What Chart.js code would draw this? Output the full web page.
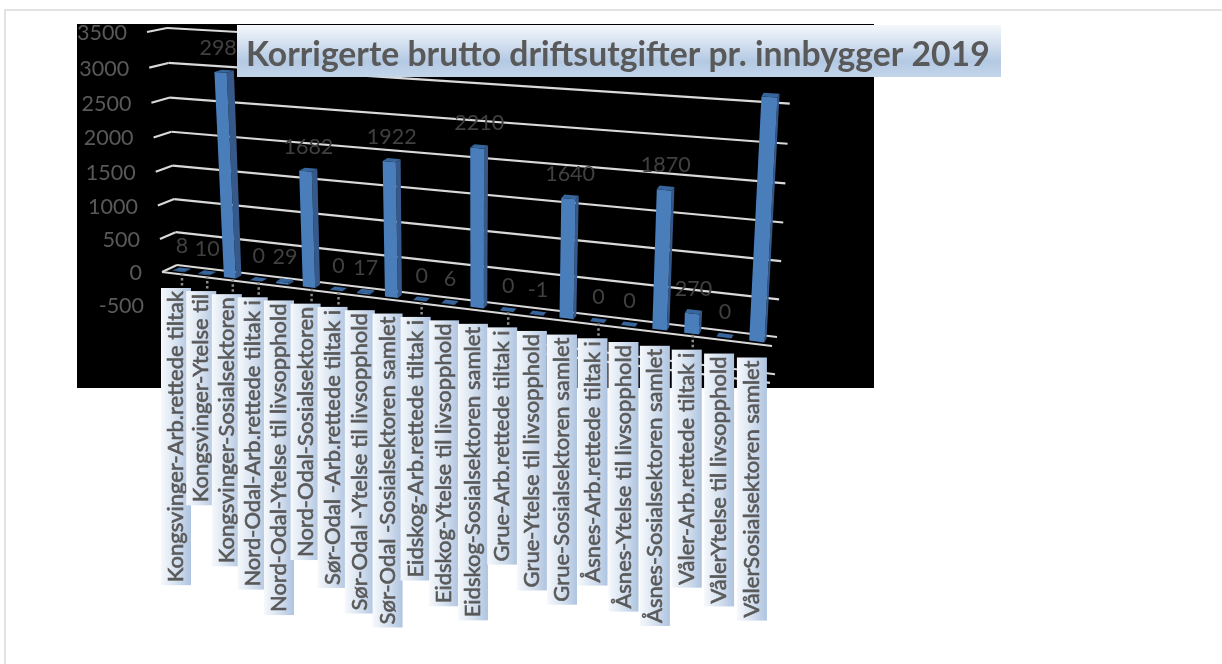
<!DOCTYPE html>
<html>
<head>
<meta charset="utf-8">
<title>Korrigerte brutto driftsutgifter</title>
<script src="https://cdn.jsdelivr.net/npm/chart.js@4"></script>
<style>
  html, body { margin: 0; padding: 0; background: #fff; }
  canvas { display: block; }
</style>
</head>
<body>
<canvas id="chart" width="1222" height="664"></canvas>
<script>
const chartTitle = "Korrigerte brutto driftsutgifter pr. innbygger 2019";
const categories = [
  "Kongsvinger-Arb.rettede tiltak", "Kongsvinger-Ytelse til", "Kongsvinger-Sosialsektoren",
  "Nord-Odal-Arb.rettede tiltak i", "Nord-Odal-Ytelse til livsopphold", "Nord-Odal-Sosialsektoren",
  "Sør-Odal -Arb.rettede tiltak i", "Sør-Odal -Ytelse til livsopphold", "Sør-Odal -Sosialsektoren samlet",
  "Eidskog-Arb.rettede tiltak i", "Eidskog-Ytelse til livsopphold", "Eidskog-Sosialsektoren samlet",
  "Grue-Arb.rettede tiltak i", "Grue-Ytelse til livsopphold", "Grue-Sosialsektoren samlet",
  "Åsnes-Arb.rettede tiltak i", "Åsnes-Ytelse til livsopphold", "Åsnes-Sosialsektoren samlet",
  "Våler-Arb.rettede tiltak i", "VålerYtelse til livsopphold", "VålerSosialsektoren samlet",
];
const values = [8, 10, 2980, 0, 29, 1682, 0, 17, 1922, 0, 6, 2210, 0, -1, 1640, 0, 0, 1870, 270, 0, 3150];
const yTicks = [-500, 0, 500, 1000, 1500, 2000, 2500, 3000, 3500];
// categories that keep a dotted leader down to the label
const leaderCats = [0, 1, 2, 3, 5, 6, 9, 12, 15, 18];
// the last data label sits out of sight in the original
const unlabelled = [20];

const FONT = "Lato, sans-serif";
const TEXT_GRAY = "#595959";
const DARK_TEXT = "#404040";
const GRID = "#d9d9d9";

// Perspective frame: corners of the back wall and of the front edge of the
// floor, for the value range 0..3500
const BACK = { tl: [167, 28], tr: [792, 63], br: [777, 337], bl: [177, 265] };
const FRONT = { tl: [147, 32], tr: [787, 72], br: [772, 346], bl: [162, 272] };
const BAR_BACK_Z = 0.3;
const BAR_FRONT_Z = 0.72;

// unit square -> quad
function quadMap(q) {
  const [x0, y0] = q.tl, [x1, y1] = q.tr, [x2, y2] = q.br, [x3, y3] = q.bl;
  const dx1 = x1 - x2, dx2 = x3 - x2, sx = x0 - x1 + x2 - x3;
  const dy1 = y1 - y2, dy2 = y3 - y2, sy = y0 - y1 + y2 - y3;
  const det = dx1 * dy2 - dx2 * dy1;
  const g = (sx * dy2 - dx2 * sy) / det;
  const h = (dx1 * sy - sx * dy1) / det;
  const a = x1 - x0 + g * x1, b = x3 - x0 + h * x3;
  const d = y1 - y0 + g * y1, e = y3 - y0 + h * y3;
  return (u, v) => {
    const w = g * u + h * v + 1;
    return [(a * u + b * v + x0) / w, (d * u + e * v + y0) / w];
  };
}
const backMap = quadMap(BACK);
const frontMap = quadMap(FRONT);

// flat chart pixel -> projected pixel, z 0 = back wall, z 1 = front edge
function project(chart, px, py, z) {
  const area = chart.chartArea, yScale = chart.scales.y;
  const u = (px - area.left) / (area.right - area.left);
  const top = yScale.getPixelForValue(3500), zero = yScale.getPixelForValue(0);
  const v = (py - top) / (zero - top);
  const b = backMap(u, v), f = frontMap(u, v);
  return [b[0] + (f[0] - b[0]) * z, b[1] + (f[1] - b[1]) * z];
}

function poly(ctx, pts, fill) {
  ctx.beginPath();
  pts.forEach((p, i) => (i ? ctx.lineTo(p[0], p[1]) : ctx.moveTo(p[0], p[1])));
  ctx.closePath();
  ctx.fillStyle = fill;
  ctx.fill();
}

function line(ctx, a, b) {
  ctx.beginPath();
  ctx.moveTo(a[0], a[1]);
  ctx.lineTo(b[0], b[1]);
  ctx.stroke();
}

const perspectivePlugin = {
  id: "perspective",
  beforeDraw(chart) {
    const ctx = chart.ctx;
    ctx.save();
    ctx.fillStyle = "#fff";
    ctx.fillRect(0, 0, 1222, 664);
    ctx.fillStyle = "#e3e3e3";
    ctx.fillRect(4, 9, 1218, 2);
    ctx.fillRect(4, 9, 2, 655);
    ctx.fillStyle = "#000";
    ctx.fillRect(77, 24, 797, 364);
    ctx.restore();
  },
  beforeDatasetsDraw(chart) {
    const ctx = chart.ctx, area = chart.chartArea, yScale = chart.scales.y;
    ctx.save();
    ctx.strokeStyle = GRID;
    ctx.lineWidth = 2.2;
    yTicks.forEach((t) => {
      const py = yScale.getPixelForValue(t);
      const frontLeft = project(chart, area.left, py, 1);
      const backLeft = project(chart, area.left, py, 0);
      const backRight = project(chart, area.right, py, 0);
      line(ctx, frontLeft, backLeft);
      line(ctx, backLeft, backRight);
      if (t <= 0) line(ctx, frontLeft, project(chart, area.right, py, 1));
    });
    ctx.restore();
  },
  beforeDatasetDraw() {
    return false; // the bars are drawn projected below
  },
  afterDatasetsDraw(chart) {
    const ctx = chart.ctx;
    const bars = chart.getDatasetMeta(0).data;
    ctx.save();
    bars.forEach((bar) => {
      const l = bar.x - bar.width / 2, r = bar.x + bar.width / 2;
      const P = (x, y, z) => project(chart, x, y, z);
      const zb = BAR_BACK_Z, zf = BAR_FRONT_Z;
      poly(ctx, [P(r, bar.y, zf), P(r, bar.y, zb), P(r, bar.base, zb), P(r, bar.base, zf)], "#36598a");
      poly(ctx, [P(l, bar.base, zf), P(r, bar.base, zf), P(r, bar.y, zf), P(l, bar.y, zf)], "#4a7ebb");
      poly(ctx, [P(l, bar.y, zf), P(r, bar.y, zf), P(r, bar.y, zb), P(l, bar.y, zb)], "#38659b");
    });
    ctx.restore();
  },
  afterDraw(chart) {
    const ctx = chart.ctx, yScale = chart.scales.y, area = chart.chartArea;
    const bars = chart.getDatasetMeta(0).data;
    ctx.save();

    // value axis labels
    ctx.font = "21.5px " + FONT;
    ctx.fillStyle = TEXT_GRAY;
    ctx.textAlign = "right";
    ctx.textBaseline = "middle";
    yTicks.forEach((t) => {
      const p = project(chart, area.left, yScale.getPixelForValue(t), 1);
      ctx.fillText(String(t), p[0] - 20, p[1] + 1);
    });

    // data labels
    ctx.fillStyle = DARK_TEXT;
    ctx.textAlign = "center";
    bars.forEach((bar, i) => {
      if (unlabelled.includes(i)) return;
      const p = project(chart, bar.x, bar.y, 0.5);
      ctx.fillText(String(values[i]), p[0], p[1] - 23);
    });

    // category labels, each on its own gradient strip
    bars.forEach((bar, i) => {
      if (!leaderCats.includes(i)) return;
      const base = project(chart, bar.x, bar.base, 0.5);
      ctx.save();
      ctx.strokeStyle = "#8c8c8c";
      ctx.lineWidth = 2.5;
      ctx.setLineDash([2.5, 2.5]);
      line(ctx, [base[0], base[1] + 3], [base[0], base[1] + 18]);
      ctx.restore();
    });
    bars.forEach((bar, i) => {
      const base = project(chart, bar.x, bar.base, 0.5);
      const cx = base[0] - 6, top = base[1] + 18;
      ctx.font = "22px " + FONT;
      const len = ctx.measureText(categories[i]).width + 6;
      const grad = ctx.createLinearGradient(cx - 15, 0, cx + 15, 0);
      grad.addColorStop(0, "#f6f9fc");
      grad.addColorStop(0.5, "#d6e1ef");
      grad.addColorStop(1, "#aec4e0");
      ctx.fillStyle = grad;
      ctx.fillRect(cx - 15, top, 30, len);
      ctx.save();
      ctx.translate(cx, top + len - 3);
      ctx.rotate(-Math.PI / 2);
      ctx.textAlign = "left";
      ctx.textBaseline = "middle";
      ctx.fillStyle = TEXT_GRAY;
      ctx.strokeStyle = TEXT_GRAY;
      ctx.lineWidth = 0.6;
      ctx.fillText(categories[i], 0, 0);
      ctx.strokeText(categories[i], 0, 0);
      ctx.restore();
    });

    // title strip
    const grad = ctx.createLinearGradient(0, 25, 0, 77);
    grad.addColorStop(0, "#f5f8fc");
    grad.addColorStop(0.7, "#b3c9e3");
    grad.addColorStop(1, "#c4d5ea");
    ctx.fillStyle = grad;
    ctx.fillRect(237, 25, 764, 52);
    ctx.font = "bold 33.7px " + FONT;
    ctx.fillStyle = TEXT_GRAY;
    ctx.textAlign = "left";
    ctx.textBaseline = "middle";
    ctx.fillText(chartTitle, 246, 55);
    ctx.restore();
  },
};

new Chart(document.getElementById("chart"), {
  type: "bar",
  data: {
    labels: categories,
    datasets: [{ data: values, backgroundColor: "#4a7ebb", barPercentage: 0.46, categoryPercentage: 1 }],
  },
  options: {
    responsive: false,
    animation: false,
    layout: { padding: 0 },
    plugins: { legend: { display: false }, tooltip: { enabled: false } },
    scales: {
      x: { display: false },
      y: { display: false, min: -500, max: 3500 },
    },
  },
  plugins: [perspectivePlugin],
});
</script>
</body>
</html>
